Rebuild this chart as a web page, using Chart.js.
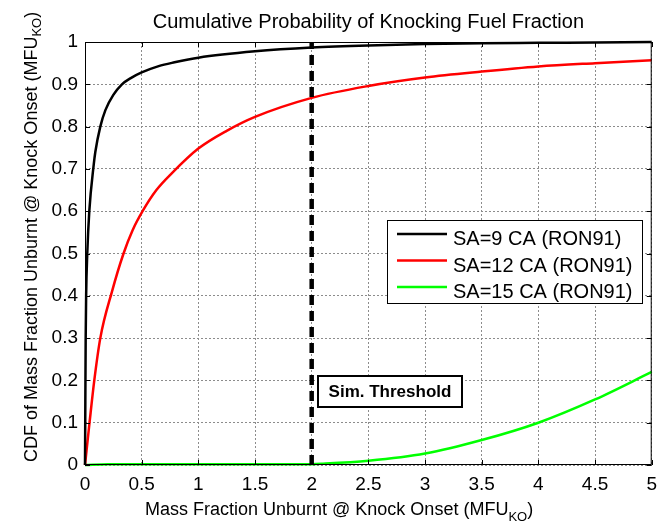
<!DOCTYPE html>
<html>
<head>
<meta charset="utf-8">
<script src="https://cdn.jsdelivr.net/npm/chart.js@4.4.0/dist/chart.umd.min.js"></script>
<style>
html, body { margin: 0; padding: 0; background: #fff; }
</style>
</head>
<body>
<canvas id="cdfChart" width="665" height="523"></canvas>
<script>
// axis ticks
const xTickLabels = ['0', '0.5', '1', '1.5', '2', '2.5', '3', '3.5', '4', '4.5', '5'];
const yTickLabels = ['0', '0.1', '0.2', '0.3', '0.4', '0.5', '0.6', '0.7', '0.8', '0.9', '1'];

// series
const seriesNames = ['SA=9 CA (RON91)', 'SA=12 CA (RON91)', 'SA=15 CA (RON91)'];
const seriesColors = ['#000000', '#ff0000', '#00ff00'];

const sa9X = [0, 0.003, 0.006, 0.01, 0.02, 0.038, 0.077, 0.091, 0.135, 0.18, 0.25, 0.326, 0.4, 0.5, 0.65, 0.79, 1, 1.5, 2, 2.5, 3, 3.5, 4, 4.5, 5];
const sa9Y = [0, 0.15, 0.3, 0.4, 0.5, 0.6, 0.71, 0.74, 0.8, 0.839, 0.875, 0.9, 0.914, 0.928, 0.943, 0.952, 0.963, 0.978, 0.987, 0.992, 0.995, 0.997, 0.998, 0.999, 1.0];

const sa12X = [0, 0.04, 0.082, 0.135, 0.238, 0.34, 0.42, 0.508, 0.63, 0.767, 1, 1.25, 1.5, 2, 2.5, 3, 3.5, 4, 4.5, 5];
const sa12Y = [0, 0.1, 0.2, 0.3, 0.41, 0.5, 0.555, 0.6, 0.65, 0.69, 0.748, 0.79, 0.823, 0.868, 0.896, 0.916, 0.93, 0.942, 0.95, 0.957];

const sa15X = [0, 0.2, 2, 2.1, 2.5, 3, 3.5, 4, 4.5, 5];
const sa15Y = [0, 0.002, 0.002, 0.003, 0.01, 0.027, 0.059, 0.1, 0.155, 0.22];

// simulation threshold marker
const thresholdX = [2, 2];
const thresholdY = [0, 1];
const thresholdLabel = 'Sim. Threshold';
const thresholdLabelAt = [2.05, 0.212];

const chartTitle = 'Cumulative Probability of Knocking Fuel Fraction';
const xTitle = ['Mass Fraction Unburnt @ Knock Onset (MFU', 'KO', ')'];
const yTitle = ['CDF of Mass Fraction Unburnt @ Knock Onset (MFU', 'KO', ')'];

const FONT = '"Liberation Sans", Arial, sans-serif';

function pts(xs, ys) {
    return xs.map((x, i) => ({ x: x, y: ys[i] }));
}

function drawSubText(ctx, parts, size, subSize, subDrop) {
    let x = 0;
    ctx.font = size + 'px ' + FONT;
    ctx.fillText(parts[0], x, 0);
    x += ctx.measureText(parts[0]).width;
    ctx.font = subSize + 'px ' + FONT;
    ctx.fillText(parts[1], x, subDrop);
    x += ctx.measureText(parts[1]).width;
    ctx.font = size + 'px ' + FONT;
    ctx.fillText(parts[2], x, 0);
}

const matlabLook = {
    id: 'matlabLook',
    afterDraw(chart) {
        const ctx = chart.ctx;
        const a = chart.chartArea;
        const xs = chart.scales.x, ys = chart.scales.y;
        ctx.save();

        // box + inward ticks
        ctx.strokeStyle = '#000';
        ctx.lineWidth = 1;
        ctx.strokeRect(a.left + 0.5, a.top + 0.5, a.right - a.left - 1, a.bottom - a.top - 1);
        ctx.beginPath();
        xs.ticks.forEach(t => {
            const px = Math.round(xs.getPixelForValue(t.value)) + 0.5;
            ctx.moveTo(px, a.bottom); ctx.lineTo(px, a.bottom - 5);
            ctx.moveTo(px, a.top); ctx.lineTo(px, a.top + 5);
        });
        ys.ticks.forEach(t => {
            const py = Math.round(ys.getPixelForValue(t.value)) + 0.5;
            ctx.moveTo(a.left, py); ctx.lineTo(a.left + 5, py);
            ctx.moveTo(a.right, py); ctx.lineTo(a.right - 5, py);
        });
        ctx.stroke();

        // title
        ctx.fillStyle = '#000';
        ctx.textAlign = 'center';
        ctx.textBaseline = 'alphabetic';
        ctx.font = '20px ' + FONT;
        ctx.fillText(chartTitle, (a.left + a.right) / 2, 28);

        // axis titles with subscript
        ctx.textAlign = 'left';
        ctx.save();
        ctx.translate(145, 515);
        drawSubText(ctx, xTitle, 18, 13, 6);
        ctx.restore();
        ctx.save();
        ctx.translate(37, 462);
        ctx.rotate(-Math.PI / 2);
        drawSubText(ctx, yTitle, 18, 13, 4);
        ctx.restore();

        // legend
        ctx.fillStyle = '#fff';
        ctx.fillRect(387, 220, 255, 83);
        ctx.strokeStyle = '#000';
        ctx.lineWidth = 1;
        ctx.strokeRect(387.5, 220.5, 255, 83);
        seriesNames.forEach((name, i) => {
            const ly = 234 + i * 26.5;
            ctx.strokeStyle = seriesColors[i];
            ctx.lineWidth = 2.5;
            ctx.beginPath();
            ctx.moveTo(397, ly); ctx.lineTo(447, ly);
            ctx.stroke();
            ctx.fillStyle = '#000';
            ctx.font = '20px ' + FONT;
            ctx.textBaseline = 'alphabetic';
            ctx.fillText(name, 453, ly + 11);
        });

        // threshold text box
        const bx = Math.round(xs.getPixelForValue(thresholdLabelAt[0]));
        const by = Math.round(ys.getPixelForValue(thresholdLabelAt[1]));
        ctx.fillStyle = '#fff';
        ctx.fillRect(bx, by, 145, 32);
        ctx.strokeStyle = '#000';
        ctx.lineWidth = 2;
        ctx.strokeRect(bx + 1, by + 1, 144, 31);
        ctx.fillStyle = '#000';
        ctx.font = 'bold 17px ' + FONT;
        ctx.textAlign = 'center';
        ctx.textBaseline = 'middle';
        ctx.fillText(thresholdLabel, bx + 73, by + 17);

        ctx.restore();
    }
};

const ctx = document.getElementById('cdfChart').getContext('2d');
new Chart(ctx, {
    type: 'line',
    data: {
        datasets: [
            {
                label: 'threshold',
                data: pts(thresholdX, thresholdY),
                borderColor: '#000',
                borderWidth: 4.5,
                borderDash: [10, 6],
                pointRadius: 0,
                order: 0
            },
            {
                label: seriesNames[0],
                data: pts(sa9X, sa9Y),
                borderColor: seriesColors[0],
                borderWidth: 2.5,
                pointRadius: 0,
                cubicInterpolationMode: 'monotone',
                clip: false,
                order: 1
            },
            {
                label: seriesNames[1],
                data: pts(sa12X, sa12Y),
                borderColor: seriesColors[1],
                borderWidth: 2.5,
                pointRadius: 0,
                cubicInterpolationMode: 'monotone',
                clip: false,
                order: 2
            },
            {
                label: seriesNames[2],
                data: pts(sa15X, sa15Y),
                borderColor: seriesColors[2],
                borderWidth: 2.5,
                pointRadius: 0,
                cubicInterpolationMode: 'monotone',
                clip: false,
                order: 3
            }
        ]
    },
    options: {
        responsive: false,
        animation: false,
        devicePixelRatio: 1,
        layout: { padding: { top: 42, right: 13, left: 0, bottom: 0 } },
        plugins: {
            legend: { display: false },
            tooltip: { enabled: false },
            title: { display: false }
        },
        scales: {
            x: {
                type: 'linear',
                min: 0,
                max: 5,
                afterFit: s => { s.height = 58; },
                grid: { color: '#8c8c8c', drawTicks: false, lineWidth: 1 },
                border: { display: false, dash: [2, 2] },
                ticks: {
                    stepSize: 0.5,
                    autoSkip: false,
                    maxRotation: 0,
                    padding: 8,
                    color: '#000',
                    font: { family: FONT, size: 19 },
                    callback: (v, i) => xTickLabels[i]
                }
            },
            y: {
                type: 'linear',
                min: 0,
                max: 1,
                afterFit: s => { s.width = 85; },
                grid: { color: '#8c8c8c', drawTicks: false, lineWidth: 1 },
                border: { display: false, dash: [2, 2] },
                ticks: {
                    stepSize: 0.1,
                    autoSkip: false,
                    padding: 7,
                    color: '#000',
                    font: { family: FONT, size: 19 },
                    callback: (v, i) => yTickLabels[i]
                }
            }
        }
    },
    plugins: [matlabLook]
});
</script>
</body>
</html>
